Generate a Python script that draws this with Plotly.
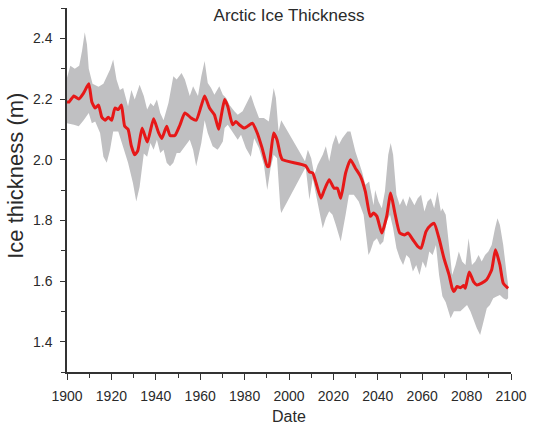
import plotly.graph_objects as go

# Mean ice thickness (red line)
line_years = [1900.0, 1900.9, 1903.1, 1905.3, 1907.5, 1909.8, 1911.2, 1912.7, 1914.2, 1915.7,
              1917.2, 1918.6, 1920.1, 1921.6, 1923.1, 1924.5, 1926.0, 1927.5, 1929.0, 1930.5,
              1931.9, 1933.8, 1936.2, 1939.0, 1941.2, 1942.7, 1944.9, 1946.4, 1948.6, 1950.9,
              1953.1, 1956.0, 1958.2, 1960.4, 1962.0, 1964.2, 1966.4, 1968.3, 1969.3, 1971.0,
              1972.4, 1974.6, 1976.1, 1977.6, 1979.8, 1981.3, 1983.5, 1985.7, 1987.9, 1990.2,
              1990.9, 1993.1, 1994.6, 1996.1, 1997.0, 2007.5, 2009.2, 2010.7, 2012.2, 2014.4,
              2015.9, 2018.1, 2020.3, 2021.8, 2023.3, 2025.5, 2027.7, 2029.9, 2032.2, 2034.4,
              2036.6, 2038.1, 2039.6, 2041.8, 2044.0, 2045.8, 2047.7, 2049.9, 2052.1, 2053.6,
              2055.8, 2058.0, 2059.5, 2061.7, 2064.0, 2065.4, 2067.6, 2069.8, 2072.1, 2073.5,
              2074.3, 2075.7, 2077.2, 2078.7, 2079.4, 2081.2, 2083.1, 2084.6, 2086.8, 2089.0,
              2091.3, 2093.0, 2095.0, 2096.5, 2098.7]
line_values = [2.19, 2.19, 2.21, 2.20, 2.22, 2.25, 2.19, 2.17, 2.18, 2.14,
               2.13, 2.14, 2.13, 2.17, 2.165, 2.18, 2.11, 2.10, 2.045, 2.016,
               2.03, 2.104, 2.058, 2.135, 2.09, 2.07, 2.11, 2.08, 2.08, 2.115,
               2.154, 2.137, 2.13, 2.176, 2.21, 2.17, 2.148, 2.10, 2.137, 2.198,
               2.176, 2.115, 2.126, 2.115, 2.104, 2.11, 2.12, 2.088, 2.038, 1.978,
               1.978, 2.088, 2.066, 2.016, 2.0, 1.98, 1.96, 1.956, 1.923, 1.873,
               1.90, 1.934, 1.906, 1.906, 1.873, 1.956, 2.0, 1.972, 1.945, 1.895,
               1.813, 1.824, 1.813, 1.758, 1.813, 1.89, 1.824, 1.758, 1.752, 1.758,
               1.736, 1.714, 1.708, 1.763, 1.785, 1.79, 1.74, 1.675, 1.62, 1.576,
               1.565, 1.582, 1.578, 1.585, 1.576, 1.63, 1.598, 1.587, 1.593, 1.604,
               1.637, 1.703, 1.653, 1.593, 1.576]

# Upper edge of the grey spread
upper_years = [1900.0, 1901.5, 1903.5, 1905.5, 1906.8, 1908.0, 1909.0, 1909.8, 1911.5, 1914.2,
               1916.4, 1919.4, 1920.8, 1922.3, 1923.8, 1925.3, 1927.5, 1929.0, 1930.5, 1932.7,
               1934.6, 1936.1, 1937.6, 1939.0, 1940.5, 1942.0, 1943.5, 1945.7, 1947.9, 1949.4,
               1951.6, 1953.1, 1955.3, 1956.8, 1959.0, 1960.5, 1962.0, 1963.4, 1964.9, 1966.4,
               1968.6, 1970.2, 1971.7, 1973.2, 1975.4, 1976.9, 1979.1, 1981.3, 1982.8, 1984.3,
               1986.5, 1988.7, 1990.9, 1993.1, 1994.1, 1995.3, 1996.5, 2007.2, 2008.5, 2010.0,
               2011.4, 2012.9, 2015.2, 2016.6, 2018.1, 2019.6, 2021.1, 2022.5, 2024.0, 2026.3,
               2027.7, 2029.9, 2031.4, 2032.9, 2034.4, 2036.1, 2036.6, 2038.1, 2038.8, 2040.3,
               2041.8, 2043.2, 2044.7, 2045.8, 2046.9, 2048.4, 2049.9, 2051.4, 2052.9, 2054.3,
               2056.5, 2058.0, 2059.5, 2061.0, 2062.4, 2063.9, 2065.4, 2066.9, 2068.4, 2069.1,
               2070.6, 2072.1, 2073.5, 2075.0, 2076.5, 2078.0, 2079.5, 2080.9, 2082.4, 2083.9,
               2085.4, 2086.8, 2088.3, 2089.8, 2091.3, 2092.8, 2093.9, 2095.0, 2096.5, 2097.9,
               2098.7]
upper_values = [2.27, 2.31, 2.30, 2.31, 2.36, 2.42, 2.38, 2.30, 2.25, 2.24,
                2.25, 2.297, 2.33, 2.264, 2.23, 2.236, 2.176, 2.23, 2.198, 2.247,
                2.21, 2.165, 2.187, 2.176, 2.198, 2.154, 2.13, 2.187, 2.275, 2.264,
                2.286, 2.264, 2.21, 2.242, 2.21, 2.275, 2.325, 2.253, 2.236, 2.214,
                2.242, 2.214, 2.203, 2.18, 2.16, 2.148, 2.16, 2.192, 2.214, 2.18,
                2.137, 2.137, 2.126, 2.236, 2.203, 2.093, 2.13, 1.995, 2.033, 2.005,
                1.95, 1.983, 2.016, 2.044, 1.994, 2.05, 2.082, 2.05, 2.071, 2.093,
                2.093, 2.027, 1.994, 1.96, 1.917, 1.928, 1.906, 1.85, 1.90, 1.862,
                1.84, 1.895, 2.016, 2.055, 2.016, 1.884, 1.85, 1.873, 1.846, 1.879,
                1.85, 1.873, 1.884, 1.829, 1.862, 1.873, 1.84, 1.895, 1.829, 1.84,
                1.818, 1.708, 1.62, 1.653, 1.697, 1.664, 1.653, 1.741, 1.653, 1.664,
                1.686, 1.664, 1.686, 1.697, 1.719, 1.774, 1.807, 1.785, 1.719, 1.631,
                1.587]

# Lower edge of the grey spread
lower_years = [1900.0, 1903.1, 1905.3, 1907.5, 1909.8, 1911.2, 1912.7, 1914.9, 1916.4, 1917.9,
               1919.4, 1920.8, 1923.1, 1925.3, 1927.5, 1929.7, 1931.2, 1932.7, 1934.6, 1936.1,
               1937.6, 1939.0, 1940.5, 1942.0, 1943.5, 1944.9, 1946.4, 1947.9, 1949.4, 1950.9,
               1953.1, 1955.3, 1956.8, 1958.2, 1960.5, 1962.0, 1963.4, 1965.6, 1967.8, 1968.6,
               1970.2, 1971.0, 1972.4, 1974.6, 1976.9, 1978.4, 1980.6, 1982.8, 1984.3, 1986.5,
               1988.7, 1990.2, 1991.7, 1993.1, 1994.6, 1996.1, 1996.5, 2007.5, 2009.2, 2010.7,
               2012.2, 2013.7, 2015.2, 2016.6, 2018.1, 2019.6, 2021.1, 2023.3, 2025.5, 2027.0,
               2029.2, 2031.4, 2033.6, 2035.8, 2036.6, 2038.1, 2039.6, 2041.0, 2042.5, 2044.0,
               2045.5, 2046.9, 2048.4, 2049.9, 2051.4, 2052.9, 2054.3, 2055.8, 2057.3, 2058.8,
               2060.2, 2061.7, 2063.2, 2064.7, 2066.2, 2067.6, 2069.1, 2070.6, 2072.8, 2074.3,
               2075.7, 2077.2, 2078.7, 2080.2, 2081.7, 2083.1, 2084.6, 2086.1, 2087.6, 2089.1,
               2090.5, 2092.0, 2093.5, 2095.0, 2096.5, 2097.9, 2098.7]
lower_values = [2.12, 2.115, 2.11, 2.13, 2.154, 2.12, 2.126, 2.088, 2.01, 1.99,
                2.033, 2.093, 2.093, 2.044, 1.99, 1.923, 1.862, 1.91, 2.02, 2.01,
                2.055, 2.033, 2.066, 2.022, 2.033, 1.99, 1.978, 1.99, 2.022, 2.022,
                2.044, 2.066, 2.033, 1.978, 2.055, 2.13, 2.088, 2.044, 2.033, 2.04,
                2.06, 2.104, 2.115, 2.093, 2.066, 2.082, 2.038, 2.01, 2.071, 2.038,
                1.983, 1.90, 1.972, 2.016, 2.005, 1.84, 1.824, 1.975, 1.868, 1.939,
                1.895, 1.83, 1.774, 1.807, 1.83, 1.818, 1.785, 1.73, 1.818, 1.884,
                1.884, 1.862, 1.818, 1.686, 1.697, 1.73, 1.741, 1.719, 1.73, 1.796,
                1.818, 1.774, 1.708, 1.675, 1.653, 1.686, 1.675, 1.631, 1.653, 1.62,
                1.664, 1.642, 1.697, 1.686, 1.719, 1.62, 1.55, 1.53, 1.477, 1.50,
                1.50, 1.50, 1.51, 1.521, 1.50, 1.477, 1.444, 1.422, 1.466, 1.51,
                1.521, 1.543, 1.549, 1.554, 1.543, 1.538, 1.543]

x_tick_vals = [1900, 1920, 1940, 1960, 1980, 2000, 2020, 2040, 2060, 2080, 2100]
y_tick_vals = [1.4, 1.6, 1.8, 2.0, 2.2, 2.4]

FONT = "Liberation Sans, Arial, sans-serif"
TXT = "#2a2a2a"

fig = go.Figure()
fig.add_trace(go.Scatter(
    x=upper_years + lower_years[::-1],
    y=upper_values + lower_values[::-1],
    fill="toself", fillcolor="rgb(192,192,194)",
    line=dict(width=0), mode="lines", hoverinfo="skip", showlegend=False))
fig.add_trace(go.Scatter(
    x=line_years, y=line_values, mode="lines",
    line=dict(color="rgb(230,24,24)", width=3, shape="spline", smoothing=0.5),
    showlegend=False))

fig.update_layout(
    width=535, height=427,
    margin=dict(l=67, r=17, t=8, b=55),
    paper_bgcolor="white", plot_bgcolor="white",
    font=dict(family=FONT, color=TXT, size=14),
    title=dict(text="Arctic Ice Thickness", x=0.5, xref="paper", xanchor="center",
               y=1 - 15 / 427, yref="container", yanchor="middle",
               font=dict(size=17, family=FONT, color=TXT)),
    xaxis=dict(range=[1900, 2100], tickvals=x_tick_vals, ticks="outside", ticklen=6,
               tickwidth=1.3, tickcolor="#333", showline=True, linecolor="#333", linewidth=1.5,
               showgrid=False, zeroline=False, ticklabelstandoff=4,
               tickfont=dict(size=14, family=FONT, color=TXT),
               minor=dict(dtick=10, tick0=1900, ticks="outside", ticklen=4, tickwidth=1.3,
                          tickcolor="#333", showgrid=False)),
    yaxis=dict(range=[1.3, 2.5], tickvals=y_tick_vals, ticktext=[f"{v:.1f}" for v in y_tick_vals],
               ticks="outside", ticklen=5, tickwidth=1.3, tickcolor="#333",
               showline=True, linecolor="#333", linewidth=1.5,
               showgrid=False, zeroline=False, ticklabelstandoff=5,
               tickfont=dict(size=14, family=FONT, color=TXT),
               minor=dict(dtick=0.1, tick0=1.3, ticks="outside", ticklen=4, tickwidth=1.3,
                          tickcolor="#333", showgrid=False)),
    annotations=[
        dict(text="Date", xref="paper", yref="paper", x=0.5, y=-(416 - 372) / 364,
             xanchor="center", yanchor="middle", showarrow=False,
             font=dict(size=16, family=FONT, color=TXT)),
        dict(text="Ice thickness (m)", xref="paper", yref="paper",
             x=-(67 - 14) / 451, y=(372 - 176) / 364, textangle=-90,
             xanchor="center", yanchor="middle", showarrow=False,
             font=dict(size=22, family=FONT, color=TXT)),
    ],
)

fig.write_html("out.html", config={"displayModeBar": False},
               post_script="document.body.style.margin='0';document.body.style.overflow='hidden';")
